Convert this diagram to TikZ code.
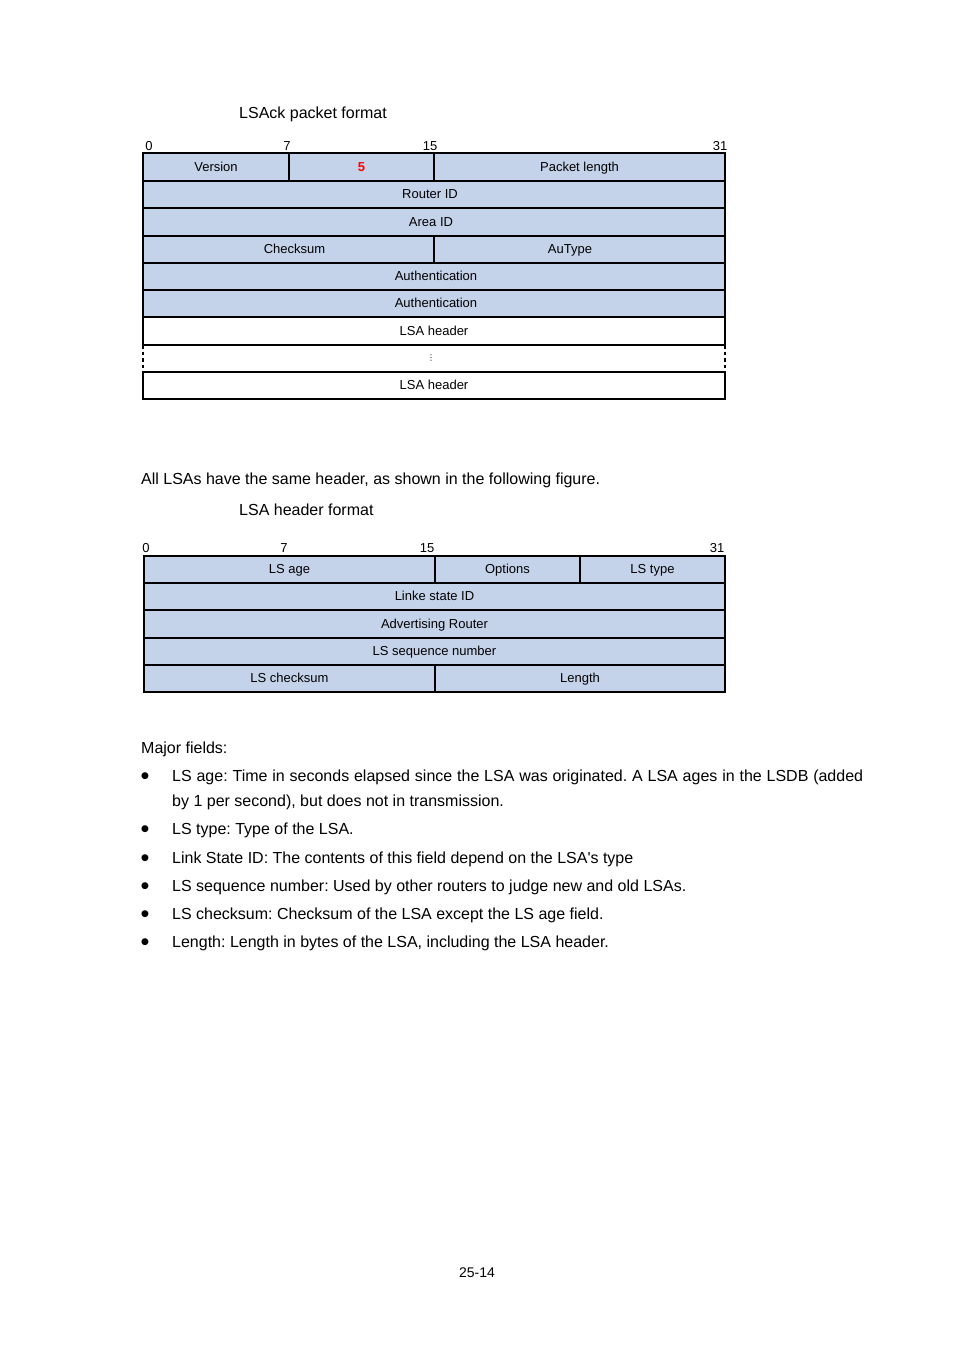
\documentclass[tikz,border=0pt]{standalone}
\usepackage{fontspec}
\setmainfont{Liberation Sans}
\newfontfamily\symfont{DejaVu Sans}
\definecolor{fieldblue}{RGB}{197,211,234}
\frenchspacing
\newcommand\fieldcell[7]{%
  \node[#1, minimum width={#5-#3}, minimum height={#6-#4}] (#2) at ({(#3+#5)/2},{(#4+#6)/2}) {#7};}
\begin{document}
\begin{tikzpicture}[x=1pt,y=-1pt,
  fld/.style={draw=black, line width=1.5pt, fill=fieldblue, inner sep=0pt, outer sep=0pt,
    font=\fontsize{13}{15}\selectfont, text height=8pt, text depth=0pt},
  whitefld/.style={fld, fill=white},
  plainfld/.style={inner sep=0pt, outer sep=0pt, font=\fontsize{13}{15}\selectfont, text height=8pt, text depth=0pt},
  bitlabel/.style={anchor=base, inner sep=0pt, font=\fontsize{13}{15}\selectfont},
  bodytext/.style={anchor=base west, inner sep=0pt, font=\fontsize{16}{19}\selectfont},
  bulletmark/.style={anchor=center, inner sep=0pt, font=\symfont\fontsize{9}{10}\selectfont},
  dashside/.style={line width=1.5pt, dash pattern=on 3.5pt off 3pt}
]
\useasboundingbox (0,0) rectangle (954,1350);

% ---------- LSAck packet format ----------
\node[bodytext] (cap1) at (239,118) {LSAck packet format};

\node[bitlabel] (b1a) at (149,150) {0};
\node[bitlabel] (b1b) at (287,150) {7};
\node[bitlabel] (b1c) at (430,150) {15};
\node[bitlabel] (b1d) at (720,150) {31};

\fieldcell{fld}{ver}{143}{153}{289}{181}{Version}
\fieldcell{fld}{ptype}{289}{153}{434}{181}{\textcolor{red}{\bfseries 5}}
\fieldcell{fld}{plen}{434}{153}{725}{181}{Packet length}
\fieldcell{fld}{rid}{143}{181}{725}{208}{Router ID\hspace*{8pt}}
\fieldcell{fld}{aid}{143}{208}{725}{236}{Area ID\hspace*{6pt}}
\fieldcell{fld}{cks}{143}{236}{434}{263}{\hspace*{12pt}Checksum}
\fieldcell{fld}{aut}{434}{236}{725}{263}{AuType\hspace*{19pt}}
\fieldcell{fld}{auth1}{143}{263}{725}{290}{\hspace*{4pt}Authentication}
\fieldcell{fld}{auth2}{143}{290}{725}{317}{\hspace*{4pt}Authentication}
\fieldcell{whitefld}{lsa1}{143}{317}{725}{345}{LSA header}
\fieldcell{plainfld}{gap}{143}{345}{725}{372}{}
\fieldcell{whitefld}{lsa2}{143}{372}{725}{399}{LSA header}
\node[inner sep=0pt, font=\symfont\fontsize{8}{9}\selectfont] (dots) at ([xshift=-3pt]gap.center) {⋮};
\draw[dashside] (lsa1.south west) -- (lsa2.north west);
\draw[dashside] (lsa1.south east) -- (lsa2.north east);

% ---------- LSA header format ----------
\node[bodytext] (intro) at (141,484) {All LSAs have the same header, as shown in the following figure.};
\node[bodytext] (cap2) at (239,515) {LSA header format};

\node[bitlabel] (b2a) at (146,552) {0};
\node[bitlabel] (b2b) at (284,552) {7};
\node[bitlabel] (b2c) at (427,552) {15};
\node[bitlabel] (b2d) at (717,552) {31};

\fieldcell{fld}{lsage}{144}{556}{435}{583}{LS age}
\fieldcell{fld}{opts}{435}{556}{580}{583}{Options}
\fieldcell{fld}{lstype}{580}{556}{725}{583}{LS type}
\fieldcell{fld}{lsid}{144}{583}{725}{610}{Linke state ID}
\fieldcell{fld}{adv}{144}{610}{725}{638}{Advertising Router}
\fieldcell{fld}{seq}{144}{638}{725}{665}{LS sequence number}
\fieldcell{fld}{lscks}{144}{665}{435}{692}{LS checksum}
\fieldcell{fld}{lslen}{435}{665}{725}{692}{Length}

% ---------- Major fields ----------
\node[bodytext] (major) at (141,753) {Major fields:};
\node[bulletmark] (m1) at (145,776) {●};
\node[bodytext] (t1) at (172,781) {\makebox[691pt][s]{LS age: Time in seconds elapsed since the LSA was originated. A LSA ages in the LSDB (added}};
\node[bodytext] (t1b) at (172,806) {by 1 per second), but does not in transmission.};
\node[bulletmark] (m2) at (145,829) {●};
\node[bodytext] (t2) at (172,834) {LS type: Type of the LSA.};
\node[bulletmark] (m3) at (145,858) {●};
\node[bodytext] (t3) at (172,863) {Link State ID: The contents of this field depend on the LSA\textquotesingle s type};
\node[bulletmark] (m4) at (145,886) {●};
\node[bodytext] (t4) at (172,891) {LS sequence number: Used by other routers to judge new and old LSAs.};
\node[bulletmark] (m5) at (145,914) {●};
\node[bodytext] (t5) at (172,919) {LS checksum: Checksum of the LSA except the LS age field.};
\node[bulletmark] (m6) at (145,942) {●};
\node[bodytext] (t6) at (172,947) {Length: Length in bytes of the LSA, including the LSA header.};

\node[anchor=base, inner sep=0pt, font=\fontsize{14}{16}\selectfont] (pagenum) at (477,1277) {25-14};
\end{tikzpicture}
\end{document}
